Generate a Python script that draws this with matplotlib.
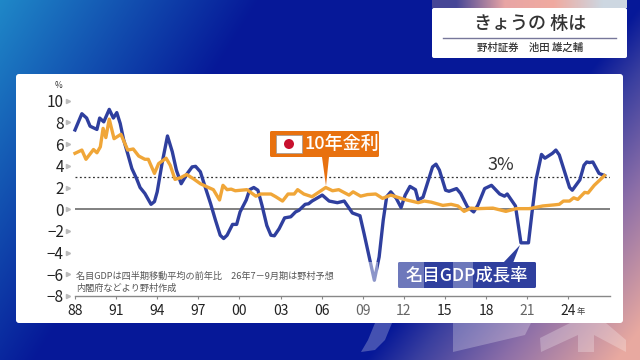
import numpy as np
import matplotlib
matplotlib.use('Agg')
import matplotlib.pyplot as plt
from matplotlib.patches import FancyBboxPatch, Rectangle, Polygon, Circle

plt.rcParams['font.family'] = ['Noto Sans CJK JP', 'DejaVu Sans']

# values
gdp_x = [1988, 1988.5, 1988.85, 1989.1, 1989.6, 1989.8, 1990.1, 1990.5, 1990.8, 1991.05, 1991.3, 1991.55, 1991.85,
         1992.15, 1992.5, 1992.75, 1993.1, 1993.55, 1993.8, 1994.0, 1994.35, 1994.75, 1995.1, 1995.4, 1995.75,
         1996.2, 1996.55, 1996.8, 1997.15, 1997.5, 1997.9, 1998.25, 1998.6, 1998.85, 1999.1, 1999.5, 1999.8,
         2000.05, 2000.5, 2000.75, 2001.05, 2001.35, 2001.65, 2002.0, 2002.3, 2002.55, 2002.9, 2003.3, 2003.75,
         2004.1, 2004.35, 2004.8, 2005.05, 2005.3, 2006.05, 2006.55, 2007.15, 2007.65, 2008.25, 2008.8, 2009.1,
         2009.5, 2009.85, 2010.2, 2010.5, 2010.75, 2011.05, 2011.45, 2011.8, 2012.1, 2012.45, 2012.85, 2013.05,
         2013.4, 2013.8, 2014.1, 2014.35, 2014.6, 2015.05, 2015.3, 2015.85, 2016.15, 2016.65, 2017.1, 2017.4,
         2017.9, 2018.4, 2019.0, 2019.35, 2019.55, 2020.15, 2020.55, 2021.1, 2021.35, 2021.65, 2022.05, 2022.3,
         2022.85, 2023.1, 2023.35, 2023.7, 2024.1, 2024.3, 2024.85, 2025.15, 2025.35, 2025.55, 2025.8, 2026.25, 2026.65]
gdp_y = [7.3, 8.8, 8.4, 7.65, 7.35, 8.4, 8.05, 9.2, 8.4, 8.9, 7.9, 6.4, 5.1,
         3.75, 2.8, 2.0, 1.45, 0.45, 0.7, 1.6, 4.2, 6.75, 5.3, 3.6, 2.35,
         3.3, 3.9, 3.95, 3.45, 2.05, 0.5, -1.0, -2.4, -2.7, -2.4, -1.4, -1.4,
         -0.25, 0.85, 1.8, 2.0, 1.75, 0.35, -1.5, -2.4, -2.45, -1.8, -0.8, -0.7,
         -0.25, -0.1, 0.45, 0.5, 0.75, 1.3, 0.75, 0.6, 0.75, -0.35, -0.6, -2.25,
         -4.55, -6.55, -4.4, -1.0, 1.15, 1.6, 1.0, 0.15, 1.3, 2.1, 1.8, 0.85,
         1.1, 2.7, 3.9, 4.15, 3.6, 1.75, 1.65, 1.9, 1.45, 0.2, -0.25, 0.35,
         1.9, 2.2, 1.4, 1.2, 1.4, 0.3, -3.1, -3.1, -0.4, 2.7, 5.05, 4.7,
         5.15, 5.45, 5.0, 3.6, 2.0, 1.75, 2.7, 4.05, 4.35, 4.3, 4.35, 3.3, 3.1]

jgb_x = [1988, 1988.5, 1988.8, 1989.35, 1989.6, 1989.85, 1990.05, 1990.25, 1990.5, 1990.85, 1991.35, 1991.85,
         1992.25, 1992.65, 1993.1, 1993.35, 1993.8, 1994.1, 1994.65, 1994.95, 1995.3, 1995.7, 1996.15, 1996.65,
         1997.15, 1997.65, 1998.1, 1998.55, 1998.8, 1999.1, 1999.4, 1999.7, 2000.55, 2001.2, 2001.55, 2002.3,
         2002.65, 2003.15, 2003.55, 2004.0, 2004.25, 2004.7, 2005.3, 2005.95, 2006.3, 2006.8, 2007.25, 2008.0,
         2008.3, 2008.85, 2009.35, 2009.95, 2010.45, 2011.05, 2012.05, 2013.05, 2013.5, 2014.0, 2014.85, 2015.45,
         2015.95, 2016.4, 2016.9, 2017.4, 2018.5, 2019.45, 2020.2, 2021.15, 2022.15, 2023.0, 2023.35, 2023.65,
         2024.1, 2024.4, 2024.7, 2025.2, 2025.45, 2025.9, 2026.65]
jgb_y = [5.15, 5.45, 4.6, 5.5, 5.2, 5.75, 7.45, 6.6, 8.3, 6.5, 6.9, 5.45,
         5.55, 4.9, 4.6, 4.6, 3.3, 4.2, 4.7, 4.05, 2.75, 2.9, 3.2, 2.8,
         2.35, 2.05, 1.8, 0.85, 2.2, 1.8, 1.85, 1.7, 1.8, 1.2, 1.4, 1.4,
         1.15, 0.75, 1.4, 1.4, 1.8, 1.4, 1.15, 1.7, 2.0, 1.7, 1.8, 1.3,
         1.6, 1.2, 1.35, 1.4, 1.0, 1.3, 0.9, 0.6, 0.75, 0.65, 0.35, 0.45,
         0.3, -0.2, 0.1, 0.05, 0.1, -0.2, 0.05, 0.05, 0.3, 0.4, 0.45, 0.75,
         0.75, 1.05, 0.9, 1.55, 1.5, 2.2, 3.1]

y_ticks = [10, 8, 6, 4, 2, 0, -2, -4, -6, -8]
y_labels = ['10', '8', '6', '4', '2', '0', '−2', '−4', '−6', '−8']
x_ticks = [1988, 1991, 1994, 1997, 2000, 2003, 2006, 2009, 2012, 2015, 2018, 2021, 2024]
x_labels = ['88', '91', '94', '97', '00', '03', '06', '09', '12', '15', '18', '21', '24']
faded_labels = ['09', '12', '21']

BLUE = '#2f3f9e'
ORANGE = '#f0a638'
TAG = '#e8710f'
W, H = 640, 360

fig = plt.figure(figsize=(W / 100, H / 100), dpi=100)

# background gradient
bg = fig.add_axes([0, 0, 1, 1])
bg.set_xlim(0, W)
bg.set_ylim(H, 0)
bg.axis('off')
px, py = np.meshgrid(np.arange(W) + 0.5, np.arange(H) + 0.5)
pink = np.clip(0.004 * px + 0.0031 * py - 2.58, 0, 1)
ramp_t = [0, 0.2, 0.55, 1]
ramp_c = np.array([[6, 24, 152], [58, 63, 159], [141, 111, 168], [232, 169, 160]])
rgb = np.dstack([np.interp(pink, ramp_t, ramp_c[:, i]) for i in range(3)])
glow = np.clip(1 - px / 260 - py * 0.0024, 0, 1)[..., None]
rgb = rgb * (1 - glow) + np.array([31, 136, 200]) * glow
bg.imshow(rgb.astype(np.uint8), extent=(0, W, H, 0), aspect='auto')

# white card
bg.add_patch(FancyBboxPatch((16, 74), 607, 249, boxstyle='round,pad=0,rounding_size=3', fc='white', ec='none'))

# watermark pieces below the card
for pts in [[[375, 323], [392, 323], [385, 340], [375, 350], [361, 352], [368, 340]],
            [[453, 323], [531, 323], [525, 335], [453, 352]],
            [[578, 323], [594, 323], [594, 352], [578, 352]],
            [[540, 338], [570, 323], [578, 323], [578, 335], [541, 352]],
            [[594, 323], [606, 323], [626, 340], [626, 352], [594, 335]]]:
    bg.add_patch(Polygon(pts, fc='white', alpha=0.25, ec='none'))

# title box top right
strip = np.array([[[70, 70, 150], [232, 165, 165], [240, 170, 160], [205, 215, 225]]], dtype=np.uint8)
bg.imshow(strip, extent=(432, 627, 8, 0), aspect='auto', interpolation='bilinear')
bg.set_xlim(0, W)
bg.set_ylim(H, 0)
bg.add_patch(FancyBboxPatch((432, 8), 195, 50, boxstyle='round,pad=0,rounding_size=2', fc='white', ec='none'))
bg.plot([443, 616], [38, 38], color='#77779a', lw=1)
bg.text(530, 24, 'きょうの 株は', fontsize=13, fontweight='medium', color='#333333', ha='center', va='center')
bg.text(530, 48, '野村証券　池田 雄之輔', fontsize=7.5, fontweight='medium', color='#333333', ha='center', va='center')

# chart
ax = fig.add_axes([75 / W, 1 - 296 / H, (610 - 75) / W, (296 - 100.7) / H])
ax.patch.set_alpha(0)
ax.set_xlim(1988, 1988 + (610 - 75) / 13.7)
ax.set_ylim(-8, 10)
for s in ['top', 'right', 'left']:
    ax.spines[s].set_visible(False)
ax.spines['bottom'].set_color('#888888')
ax.spines['bottom'].set_linewidth(1)
ax.set_yticks(y_ticks)
ax.set_yticklabels(y_labels, fontsize=11, color='#222222')
ax.set_xticks(x_ticks)
ax.set_xticklabels(x_labels, fontsize=10, color='#222222')
for lab in ax.get_xticklabels():
    if lab.get_text() in faded_labels:
        lab.set_color('#666666')
ax.tick_params(axis='y', length=0, pad=8)
ax.tick_params(axis='x', length=2, width=0.8, color='#888888', pad=4)
ax.plot([1987.5] * len(y_ticks), y_ticks, ls='none', marker='>', ms=3, color='#bbbbbb', clip_on=False)
ax.text(1986.83, 11.36, '%', fontsize=6, color='#333333', ha='center', va='center', clip_on=False)
ax.text(2024.9, -9.4, '年', fontsize=6, color='#444444', ha='center', va='center', clip_on=False)

ax.axhline(0, color='#808080', lw=1.4, zorder=1)
ax.axhline(3, color='#333333', lw=0.9, ls=(0, (1.5, 2)), zorder=1)
ax.plot(gdp_x, gdp_y, color=BLUE, lw=2.4, solid_joinstyle='round', zorder=3, clip_on=False)
ax.plot(jgb_x, jgb_y, color=ORANGE, lw=2.4, solid_joinstyle='round', zorder=4, clip_on=False)

ax.text(2019.1, 4.06, '3%', fontsize=13, color='#333333', ha='center', va='center')
ax.text(1988.05, -6.2, '名目GDPは四半期移動平均の前年比　26年7－9月期は野村予想', fontsize=6.6, color='#555555',
        ha='left', va='center')
ax.text(1988.05, -7.3, '内閣府などより野村作成', fontsize=6.6, color='#555555', ha='left', va='center')

# labels on the card, in pixel coordinates
top = fig.add_axes([0, 0, 1, 1])
top.set_xlim(0, W)
top.set_ylim(H, 0)
top.axis('off')
top.patch.set_alpha(0)
top.add_patch(FancyBboxPatch((270, 131), 109, 26, boxstyle='round,pad=0,rounding_size=1.5', fc=TAG, ec='none'))
top.add_patch(Polygon([[322, 157], [329, 157], [326, 186]], fc=TAG, ec='none'))
top.add_patch(Rectangle((276, 135), 26, 18, fc='white', ec='#999999', lw=0.5))
top.add_patch(Circle((289, 144), 5, fc='#c8102e', ec='none'))
top.text(341.5, 144, '10年金利', fontsize=13, fontweight='medium', color='white', ha='center', va='center')

top.add_patch(FancyBboxPatch((398, 262), 138, 26, boxstyle='round,pad=0,rounding_size=1.5', fc=BLUE, ec='none'))
top.add_patch(Polygon([[503, 263], [513, 263], [520, 245]], fc=BLUE, ec='none'))
top.add_patch(Rectangle((398, 262), 26, 26, fc='white', alpha=0.3, ec='none'))
top.add_patch(Rectangle((453, 262), 20, 26, fc='white', alpha=0.3, ec='none'))
top.add_patch(Rectangle((368, 262), 10, 20, fc='white', alpha=0.45, ec='none'))
top.text(467, 275, '名目GDP成長率', fontsize=12.5, fontweight='medium', color='white', ha='center', va='center')

fig.savefig('out.png', dpi=100)
